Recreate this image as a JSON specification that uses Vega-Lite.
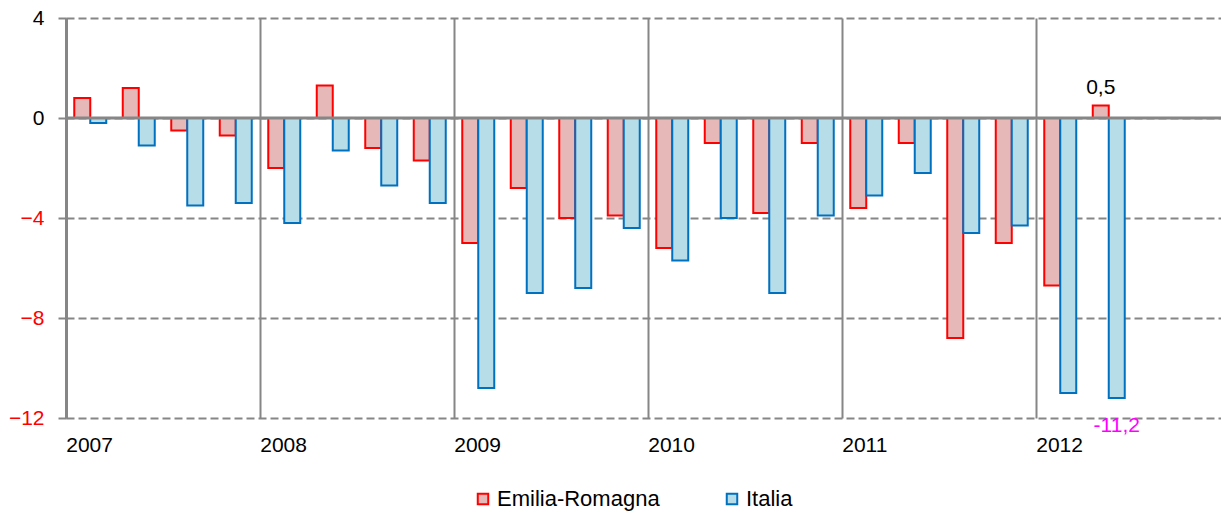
{
  "$schema": "https://vega.github.io/schema/vega-lite/v6.json",
  "width": 1164,
  "height": 400,
  "autosize": {"type": "none"},
  "padding": {"left": 66, "top": 18, "right": 0, "bottom": 95},
  "config": {"font": "Liberation Sans", "view": {"stroke": null}},
  "data": {"values": [
    {"q": "2007-1", "serie": "Emilia-Romagna", "v": 0.8}, {"q": "2007-1", "serie": "Italia", "v": -0.2},
    {"q": "2007-2", "serie": "Emilia-Romagna", "v": 1.2}, {"q": "2007-2", "serie": "Italia", "v": -1.1},
    {"q": "2007-3", "serie": "Emilia-Romagna", "v": -0.5}, {"q": "2007-3", "serie": "Italia", "v": -3.5},
    {"q": "2007-4", "serie": "Emilia-Romagna", "v": -0.7}, {"q": "2007-4", "serie": "Italia", "v": -3.4},
    {"q": "2008-1", "serie": "Emilia-Romagna", "v": -2.0}, {"q": "2008-1", "serie": "Italia", "v": -4.2},
    {"q": "2008-2", "serie": "Emilia-Romagna", "v": 1.3}, {"q": "2008-2", "serie": "Italia", "v": -1.3},
    {"q": "2008-3", "serie": "Emilia-Romagna", "v": -1.2}, {"q": "2008-3", "serie": "Italia", "v": -2.7},
    {"q": "2008-4", "serie": "Emilia-Romagna", "v": -1.7}, {"q": "2008-4", "serie": "Italia", "v": -3.4},
    {"q": "2009-1", "serie": "Emilia-Romagna", "v": -5.0}, {"q": "2009-1", "serie": "Italia", "v": -10.8},
    {"q": "2009-2", "serie": "Emilia-Romagna", "v": -2.8}, {"q": "2009-2", "serie": "Italia", "v": -7.0},
    {"q": "2009-3", "serie": "Emilia-Romagna", "v": -4.0}, {"q": "2009-3", "serie": "Italia", "v": -6.8},
    {"q": "2009-4", "serie": "Emilia-Romagna", "v": -3.9}, {"q": "2009-4", "serie": "Italia", "v": -4.4},
    {"q": "2010-1", "serie": "Emilia-Romagna", "v": -5.2}, {"q": "2010-1", "serie": "Italia", "v": -5.7},
    {"q": "2010-2", "serie": "Emilia-Romagna", "v": -1.0}, {"q": "2010-2", "serie": "Italia", "v": -4.0},
    {"q": "2010-3", "serie": "Emilia-Romagna", "v": -3.8}, {"q": "2010-3", "serie": "Italia", "v": -7.0},
    {"q": "2010-4", "serie": "Emilia-Romagna", "v": -1.0}, {"q": "2010-4", "serie": "Italia", "v": -3.9},
    {"q": "2011-1", "serie": "Emilia-Romagna", "v": -3.6}, {"q": "2011-1", "serie": "Italia", "v": -3.1},
    {"q": "2011-2", "serie": "Emilia-Romagna", "v": -1.0}, {"q": "2011-2", "serie": "Italia", "v": -2.2},
    {"q": "2011-3", "serie": "Emilia-Romagna", "v": -8.8}, {"q": "2011-3", "serie": "Italia", "v": -4.6},
    {"q": "2011-4", "serie": "Emilia-Romagna", "v": -5.0}, {"q": "2011-4", "serie": "Italia", "v": -4.3},
    {"q": "2012-1", "serie": "Emilia-Romagna", "v": -6.7}, {"q": "2012-1", "serie": "Italia", "v": -11.0},
    {"q": "2012-2", "serie": "Emilia-Romagna", "v": 0.5, "label": "0,5"}, {"q": "2012-2", "serie": "Italia", "v": -11.2, "label": "-11,2"}
  ]},
  "encoding": {
    "x": {
      "field": "q", "type": "nominal",
      "scale": {"domain": ["2007-1","2007-2","2007-3","2007-4","2008-1","2008-2","2008-3","2008-4","2009-1","2009-2","2009-3","2009-4","2010-1","2010-2","2010-3","2010-4","2011-1","2011-2","2011-3","2011-4","2012-1","2012-2","2012-3","2012-4"], "paddingInner": 0, "paddingOuter": 0},
      "axis": {"values": ["2007-1","2008-1","2009-1","2010-1","2011-1","2012-1"], "bandPosition": 0, "labelOffset": -24, "labelExpr": "substring(datum.value, 0, 4)", "labelAlign": "left", "labelBaseline": "top", "labelAngle": 0, "labelPadding": 16, "labelFontSize": 21, "labelColor": "black", "ticks": false, "domain": false, "grid": true, "gridColor": "#868686", "gridWidth": 2, "title": null, "labelOverlap": false, "labelFlush": false, "labelBound": false}
    },
    "xOffset": {"field": "serie", "type": "nominal", "scale": {"domain": ["Emilia-Romagna", "Italia"], "paddingInner": 0, "paddingOuter": 0.516}},
    "y": {
      "field": "v", "type": "quantitative",
      "scale": {"domain": [-12, 4], "nice": false, "zero": false},
      "axis": {"values": [-12, -8, -4, 0, 4], "grid": true, "gridDash": [8, 4], "gridColor": "#868686", "gridWidth": 2, "domainColor": "#868686", "domainWidth": 3, "tickColor": "#868686", "tickWidth": 2, "tickSize": 8, "labelFontSize": 21, "labelPadding": 14, "labelColor": {"condition": {"test": "datum.value < 0", "value": "#FF0000"}, "value": "black"}, "title": null}
    }
  },
  "layer": [
    {
      "mark": {"type": "bar", "strokeWidth": 2},
      "encoding": {
        "fill": {"field": "serie", "type": "nominal", "scale": {"domain": ["Emilia-Romagna", "Italia"], "range": ["#E6B9B8", "#B7DEE8"]},
          "legend": {"title": null, "orient": "none", "legendX": 406, "legendY": 470, "direction": "horizontal", "symbolType": "square", "symbolSize": 110, "symbolStrokeWidth": 2, "labelFontSize": 22, "labelLimit": 400, "labelColor": "black", "labelOffset": 3, "columnPadding": 61, "padding": 0}},
        "stroke": {"field": "serie", "type": "nominal", "scale": {"domain": ["Emilia-Romagna", "Italia"], "range": ["#FF0000", "#0070C0"]},
          "legend": {"title": null, "orient": "none", "legendX": 406, "legendY": 470, "direction": "horizontal", "symbolType": "square", "symbolSize": 110, "symbolStrokeWidth": 2, "labelFontSize": 22, "labelLimit": 400, "labelColor": "black", "labelOffset": 3, "columnPadding": 61, "padding": 0}}
      }
    },
    {
      "data": {"values": [{"z": 0}]},
      "mark": {"type": "rule", "color": "#868686", "strokeWidth": 3},
      "encoding": {"y": {"field": "z", "type": "quantitative"}, "x": null, "xOffset": null}
    },
    {
      "transform": [{"filter": "datum.serie == 'Emilia-Romagna' && datum.label"}],
      "mark": {"type": "text", "fontSize": 21, "baseline": "alphabetic", "dy": -12, "color": "black"},
      "encoding": {"text": {"field": "label"}}
    },
    {
      "transform": [{"filter": "datum.serie == 'Italia' && datum.label"}],
      "mark": {"type": "text", "fontSize": 21, "baseline": "alphabetic", "dy": 34, "color": "#FF00FF"},
      "encoding": {"text": {"field": "label"}}
    }
  ]
}
